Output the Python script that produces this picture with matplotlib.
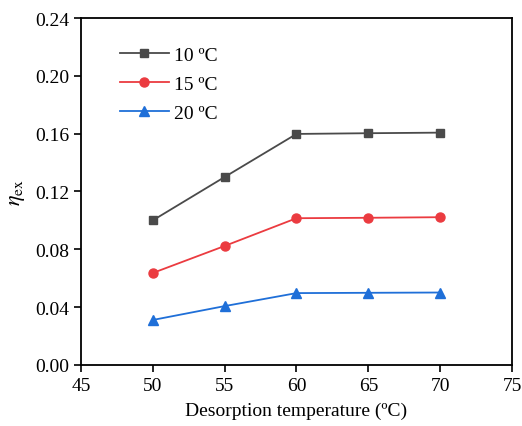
import matplotlib
matplotlib.use('Agg')
import matplotlib.pyplot as plt

plt.rcParams['font.family'] = ['Liberation Serif', 'DejaVu Serif']
plt.rcParams['mathtext.fontset'] = 'stix'

# Desorption temperature (°C)
temps = [50, 55, 60, 65, 70]
# Exergy efficiency for each cooling-water temperature
eta_10 = [0.100, 0.130, 0.1598, 0.1603, 0.1607]
eta_15 = [0.0636, 0.0823, 0.1015, 0.1018, 0.1022]
eta_20 = [0.0311, 0.0407, 0.0497, 0.0499, 0.0501]
labels = ['10 \u00baC', '15 \u00baC', '20 \u00baC']

fig = plt.figure(figsize=(5.22, 4.27), dpi=100)
ax = fig.add_axes([0.155, 0.143, 0.826, 0.8125])

ax.plot(temps, eta_10, color='#4a4a4a', marker='s', markersize=6, linewidth=1.3, label=labels[0])
ax.plot(temps, eta_15, color='#eb3b40', marker='o', markersize=6.5, linewidth=1.3, label=labels[1])
ax.plot(temps, eta_20, color='#1f6fd8', marker='^', markersize=7, linewidth=1.3, label=labels[2])

ax.set_xlim(45, 75)
ax.set_ylim(0, 0.24)
ax.set_xticks([45, 50, 55, 60, 65, 70, 75])
ax.set_yticks([0.00, 0.04, 0.08, 0.12, 0.16, 0.20, 0.24])
ax.yaxis.set_major_formatter(matplotlib.ticker.FormatStrFormatter('%.2f'))
ax.tick_params(axis='both', direction='out', length=5, width=1.2, labelsize=14, top=False, right=False)
for s in ax.spines.values():
    s.set_linewidth(1.3)

ax.set_xlabel('Desorption temperature (\u00baC)', fontsize=14, labelpad=6)
ax.set_ylabel(r'$\eta_{\rm ex}$', fontsize=16, labelpad=6)

ax.legend(loc='upper left', frameon=False, fontsize=14, handlelength=2.5,
          bbox_to_anchor=(0.05, 0.97), labelspacing=0.6, handletextpad=0.3)

fig.savefig('out.png', dpi=100)
